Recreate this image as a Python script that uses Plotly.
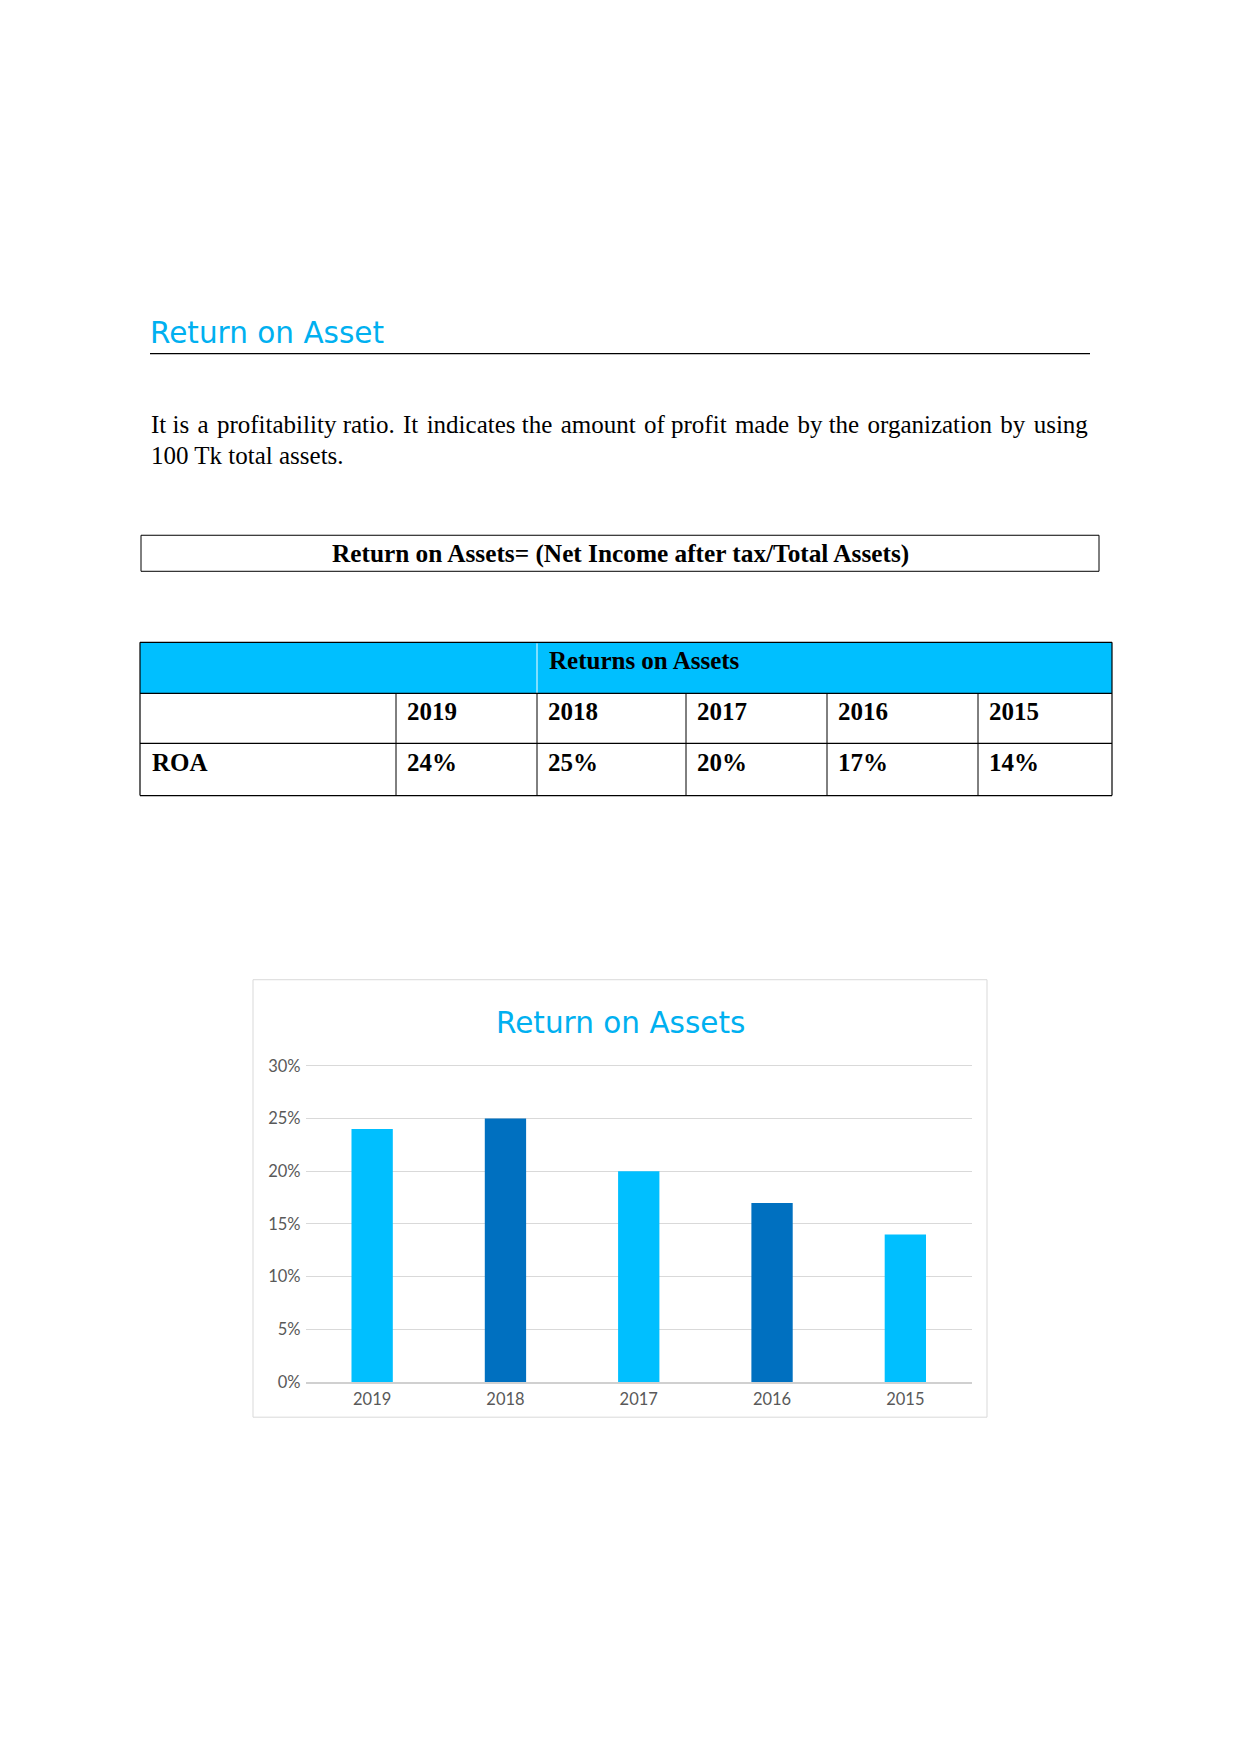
import plotly.graph_objects as go

W, H = 1241, 1754

# ---- data ----
heading = "Return on Asset"
para_lines = [
    "It is a profitability ratio. It indicates the amount of profit made by the organization by using",
    "100 Tk total assets.",
]
formula = "Return on Assets= (Net Income after tax/Total Assets)"
table_title = "Returns on Assets"
row_label = "ROA"
years = ["2019", "2018", "2017", "2016", "2015"]
roa = [0.24, 0.25, 0.20, 0.17, 0.14]
chart_title = "Return on Assets"

# ---- styles ----
CYAN = "#00BFFF"
DARK = "#0070C0"
TITLE_C = "#00B0F0"
bar_colors = [CYAN, DARK, CYAN, DARK, CYAN]

HAIR = "\u200a"


def px(x):
    return x / W


def py(y):
    yy = (y - 8.3) / 0.9887
    return 1 - yy / H


def justify(line, n_extra):
    words = line.split(" ")
    gaps = len(words) - 1
    out = words[0]
    for i in range(gaps):
        add = (i + 1) * n_extra // gaps > i * n_extra // gaps
        out += " " + (HAIR if add else "") + words[i + 1]
    return out


shapes = []
ann = []

# heading + rule
ann.append(dict(x=px(148), y=py(333), xref="paper", yref="paper", text=heading,
                showarrow=False, xanchor="left", yanchor="middle",
                font=dict(family="DejaVu Sans", size=29.5, color=TITLE_C)))
shapes.append(dict(type="line", xref="paper", yref="paper", x0=px(150), x1=px(1090),
                   y0=py(353.5), y1=py(353.5), line=dict(color="black", width=1.3)))

# paragraph (first line justified with hair spaces)
for i, line in enumerate(para_lines):
    txt = justify(line, 11) if i == 0 else line
    ann.append(dict(x=px(148.5), y=py(424 + 31 * i), xref="paper", yref="paper", text=txt,
                    showarrow=False, xanchor="left", yanchor="middle",
                    font=dict(family="Liberation Serif", size=25, color="black")))

# formula box
shapes.append(dict(type="rect", xref="paper", yref="paper", x0=px(141), x1=px(1099),
                   y0=py(535), y1=py(571), line=dict(color="black", width=1)))
ann.append(dict(x=px(620), y=py(553), xref="paper", yref="paper", text="<b>" + formula + "</b>",
                showarrow=False, xanchor="center", yanchor="middle",
                font=dict(family="Liberation Serif", size=25.3, color="black")))

# table
col_x = [140, 396, 537, 686, 827, 978, 1112]
row_y = [642, 693, 743, 795]
shapes.append(dict(type="rect", xref="paper", yref="paper", x0=px(col_x[0]), x1=px(col_x[-1]),
                   y0=py(row_y[0]), y1=py(row_y[1]), fillcolor=CYAN, line=dict(width=0), layer="below"))
shapes.append(dict(type="line", xref="paper", yref="paper", x0=px(col_x[2]), x1=px(col_x[2]),
                   y0=py(row_y[0] + 1), y1=py(row_y[1]), line=dict(color="white", width=1)))
for yv in row_y:
    shapes.append(dict(type="line", xref="paper", yref="paper", x0=px(col_x[0]), x1=px(col_x[-1]),
                       y0=py(yv), y1=py(yv), line=dict(color="black", width=1.2)))
for xv in (col_x[0], col_x[-1]):
    shapes.append(dict(type="line", xref="paper", yref="paper", x0=px(xv), x1=px(xv),
                       y0=py(row_y[0]), y1=py(row_y[-1]), line=dict(color="black", width=1.2)))
for xv in col_x[1:-1]:
    shapes.append(dict(type="line", xref="paper", yref="paper", x0=px(xv), x1=px(xv),
                       y0=py(row_y[1]), y1=py(row_y[-1]), line=dict(color="black", width=1)))

tfont = dict(family="Liberation Serif", size=25, color="black")
ann.append(dict(x=px(col_x[2] + 10), y=py(660), xref="paper", yref="paper",
                text="<b>" + table_title + "</b>", showarrow=False, xanchor="left",
                yanchor="middle", font=tfont))
ann.append(dict(x=px(col_x[0] + 10), y=py(762), xref="paper", yref="paper",
                text="<b>" + row_label + "</b>", showarrow=False, xanchor="left",
                yanchor="middle", font=tfont))
for i, (yr, v) in enumerate(zip(years, roa)):
    ann.append(dict(x=px(col_x[i + 1] + 9), y=py(711), xref="paper", yref="paper",
                    text="<b>" + yr + "</b>", showarrow=False, xanchor="left",
                    yanchor="middle", font=tfont))
    ann.append(dict(x=px(col_x[i + 1] + 9), y=py(762), xref="paper", yref="paper",
                    text="<b>%d%%</b>" % round(v * 100), showarrow=False, xanchor="left",
                    yanchor="middle", font=tfont))

# chart frame + title
shapes.append(dict(type="rect", xref="paper", yref="paper", x0=px(253), x1=px(987),
                   y0=py(979), y1=py(1416), line=dict(color="#d9d9d9", width=1)))
ann.append(dict(x=px(620), y=py(1022), xref="paper", yref="paper", text=chart_title,
                showarrow=False, xanchor="center", yanchor="middle",
                font=dict(family="DejaVu Sans", size=29.5, color=TITLE_C)))

fig = go.Figure(go.Bar(x=years, y=roa, marker=dict(color=bar_colors, line=dict(width=0)),
                       hoverinfo="skip"))

fig.update_layout(
    width=W, height=H, margin=dict(l=0, r=0, t=0, b=0),
    paper_bgcolor="white", plot_bgcolor="white",
    showlegend=False, bargap=0.69,
    shapes=shapes, annotations=ann,
    xaxis=dict(domain=[px(305.5), px(972)], type="category", showgrid=False,
               showline=True, linecolor="#d0d0d0", linewidth=1.5, ticks="",
               tickfont=dict(family="Lato", size=16.5, color="#595959"),
               ticklabelstandoff=1),
    yaxis=dict(domain=[py(1381), py(1062.9)], range=[0, 0.302], dtick=0.05, tickformat=".0%",
               showgrid=True, gridcolor="#d9d9d9", gridwidth=1, zeroline=False,
               showline=False, ticks="",
               tickfont=dict(family="Lato", size=16.5, color="#595959"),
               ticklabelstandoff=4),
)

fig.write_html("out.html")
